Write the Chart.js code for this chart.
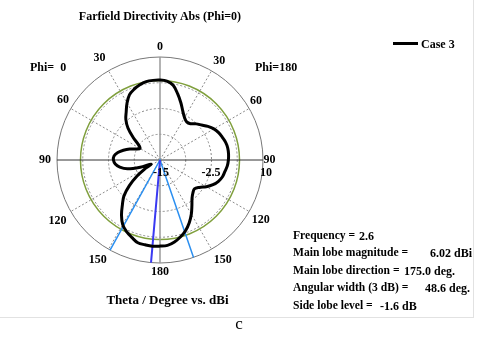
<!DOCTYPE html>
<html lang="en">
<head>
<meta charset="UTF-8">
<title>Farfield Directivity Abs (Phi=0)</title>
<script src="https://cdn.jsdelivr.net/npm/chart.js"></script>
<style>
    body { margin: 0; background: #fff; }
    #wrap { position: relative; width: 478px; height: 345px; overflow: hidden; font-family: "Liberation Serif", "Times New Roman", serif; }
    #frame { position: absolute; left: -2px; top: -2px; width: 475px; height: 319px; border-right: 1px solid #e2e2e2; border-bottom: 1px solid #e2e2e2; }
    canvas { position: absolute; left: 0; top: 0; }
    .t { position: absolute; font-weight: bold; font-size: 12px; line-height: 14px; white-space: pre; color: #000; }
    .k { font-size: 11.6px; }
    .v { font-size: 12px; }
    #legend-line { position: absolute; left: 393px; top: 42px; width: 25px; height: 3px; background: #000; }
    #caption { position: absolute; left: 0; width: 478px; top: 314px; text-align: center; font-size: 17px; line-height: 20px; }
</style>
</head>
<body>
<div id="wrap">
    <div id="frame"></div>
    <canvas id="farfield-chart" width="478" height="345"></canvas>
    <div class="t" style="left:0; width:320px; text-align:center; top:9px">Farfield Directivity Abs (Phi=0)</div>
    <div class="t" style="left:30px; top:60px">Phi=  0</div>
    <div class="t" style="left:255px; top:60px">Phi=180</div>
    <div id="legend-line"></div>
    <div class="t" style="left:421px; top:37px">Case 3</div>
    <div class="t" style="left:0; width:335px; text-align:center; top:293px; font-size:13px">Theta / Degree vs. dBi</div>
    <div class="t k" style="left:293px; top:229px">Frequency =</div>
    <div class="t v" id="info-freq" style="left:359px; top:229px"></div>
    <div class="t k" style="left:293px; top:246px">Main lobe magnitude =</div>
    <div class="t v" id="info-mag" style="left:430px; top:246px"></div>
    <div class="t k" style="left:293px; top:264px">Main lobe direction =</div>
    <div class="t v" id="info-dir" style="left:404px; top:264px"></div>
    <div class="t k" style="left:293px; top:281px">Angular width (3 dB) =</div>
    <div class="t v" id="info-width" style="left:425px; top:281px"></div>
    <div class="t k" style="left:293px; top:299px">Side lobe level =</div>
    <div class="t v" id="info-sll" style="left:380px; top:299px"></div>
    <div id="caption">c</div>
</div>
<script>
    // directivity (dBi) every 5 deg, clockwise from top:
    // 0..180 is the Phi=180 half, 180..360 runs back up the Phi=0 half
    const patternStep = 5;
    const directivityDb = [
        4.4, 4.2, 3.4, 1.6, -0.2, -1.9, -3.1, -3.7, -3.5, -2.6, -1.8, -0.8,
        0.1, 0.7, 1.1, 1.5, 1.7, 1.7, 1.6, 1.4, 1.0, 0.7, 0.1, -0.8,
        -2.0, -3.4, -4.1, -3.7, -2.9, -1.5, 0.2, 1.8, 3.2, 4.3, 5.2, 5.8,
        5.9, 6.0, 5.9, 5.8, 5.0, 4.2, 3.1, 1.3, -0.8, -2.6, -5.3, -8.2,
        -10.9, -12.6, -9.9, -6.8, -5.1, -4.1, -3.7, -3.8, -4.6, -5.8, -7.2, -8.7,
        -9.4, -8.7, -6.5, -4.0, -2.1, -0.7, 1.0, 2.5, 3.3, 3.9, 4.3, 4.4
    ];

    // spoke labels every 30 deg going round clockwise
    const spokeLabels = ['0', '30', '60', '90', '120', '150', '180', '150', '120', '90', '60', '30'];
    // radial axis
    const rMin = -15;
    const rMax = 10;
    const rStep = 6.25;
    const ringLabels = [-15, -2.5, 10];
    const refRingDb = 4.3;

    // result block
    const frequency = 2.6;
    const mainLobeMagnitude = 6.02;
    const mainLobeDirection = 175.0; // on the Phi=0 side
    const angularWidth = 48.6;
    const sideLobeLevel = -1.6;

    document.getElementById('info-freq').textContent = String(frequency);
    document.getElementById('info-mag').textContent = mainLobeMagnitude.toFixed(2) + ' dBi';
    document.getElementById('info-dir').textContent = mainLobeDirection.toFixed(1) + ' deg.';
    document.getElementById('info-width').textContent = angularWidth.toFixed(1) + ' deg.';
    document.getElementById('info-sll').textContent = sideLobeLevel.toFixed(1) + ' dB';

    // one category per degree
    const angleLabels = [];
    for (let a = 0; a < 360; a++) {
        angleLabels.push(a % 30 === 0 ? spokeLabels[a / 30] : '');
    }
    const labelPad = [3, 3.5, 1, 0.5, 3, 4.5, 2, 3.5, 5, 6, 2, 6];

    const curveData = angleLabels.map((_, a) => a % patternStep === 0 ? directivityDb[a / patternStep] : null);

    // main lobe + 3 dB edges as radial lines
    const mainIdx = 360 - mainLobeDirection;
    const edgeIdx = [Math.round(mainIdx - angularWidth / 2), Math.round(mainIdx + angularWidth / 2)];
    const spokeData = (idx) => angleLabels.map((_, a) => idx.includes(a) ? rMax : rMin);

    const ringTicks = {
        id: 'ringTicks',
        afterDraw(chart) {
            const s = chart.scales.r;
            const c = chart.ctx;
            c.save();
            c.font = 'bold 12px "Liberation Serif"';
            c.fillStyle = '#000';
            c.textAlign = 'right';
            c.textBaseline = 'middle';
            ringLabels.forEach(v => {
                c.fillText(String(v), s.xCenter + s.getDistanceFromCenterForValue(v) + 9, s.yCenter + 13);
            });
            c.restore();
        }
    };

    const ctx = document.getElementById('farfield-chart').getContext('2d');
    const farfieldChart = new Chart(ctx, {
        type: 'radar',
        data: {
            labels: angleLabels,
            datasets: [{
                label: 'Case 3',
                data: curveData,
                borderColor: '#000',
                borderWidth: 3,
                tension: 0.35,
                spanGaps: true,
                fill: false
            }, {
                label: 'main lobe',
                data: spokeData([Math.round(mainIdx)]),
                borderColor: '#3a3af2',
                borderWidth: 2,
                tension: 0,
                fill: false
            }, {
                label: '3 dB',
                data: spokeData(edgeIdx),
                borderColor: '#2b8ff0',
                borderWidth: 1.5,
                tension: 0,
                fill: false
            }]
        },
        options: {
            responsive: false,
            animation: false,
            layout: {
                padding: { left: 37, top: 39, right: 478 - 37 - 242, bottom: 345 - 39 - 242 }
            },
            elements: { point: { radius: 0, hoverRadius: 0 } },
            plugins: {
                legend: { display: false },
                tooltip: { enabled: false }
            },
            scales: {
                r: {
                    min: rMin,
                    max: rMax,
                    ticks: { display: false, stepSize: rStep },
                    afterBuildTicks: (scale) => {
                        scale.ticks.push({ value: refRingDb });
                        scale.ticks.sort((a, b) => a.value - b.value);
                    },
                    grid: {
                        circular: true,
                        color: (c) => {
                            const v = c.tick.value;
                            if (v === rMin) return 'rgba(0,0,0,0)';
                            if (v === refRingDb) return '#7f9f3c';
                            if (v === rMax) return '#777';
                            return '#8a8a8a';
                        },
                        lineWidth: (c) => c.tick.value === refRingDb ? 1.5 : 1
                    },
                    border: {
                        dash: (c) => (c.tick.value === refRingDb || c.tick.value === rMax) ? [] : [2, 2]
                    },
                    angleLines: {
                        color: (c) => {
                            if (c.index % 30 !== 0) return 'rgba(0,0,0,0)';
                            if (c.index % 180 === 0) return '#9a9a9a';
                            if (c.index % 90 === 0) return '#333';
                            return '#8a8a8a';
                        },
                        lineWidth: (c) => c.index % 30 !== 0 ? 0 : (c.index % 180 === 0 ? 1.5 : 1),
                        borderDash: (c) => c.index % 90 === 0 ? [] : [2, 2]
                    },
                    pointLabels: {
                        color: '#000',
                        font: { family: '"Liberation Serif"', size: 12, weight: 'bold' },
                        padding: (c) => c.index % 30 === 0 ? labelPad[c.index / 30] : 0
                    }
                }
            }
        },
        plugins: [ringTicks]
    });
</script>
</body>
</html>
